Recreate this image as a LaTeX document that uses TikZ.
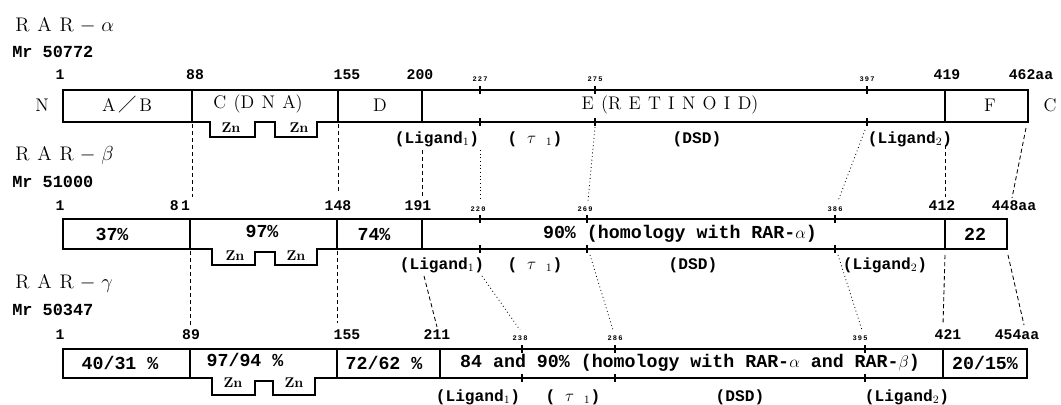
\documentclass[tikz,border=0pt]{standalone}
\usepackage{amsmath}
\usepackage{fontspec}
\setmonofont{Liberation Mono}
\newfontfamily\cjk{Noto Sans CJK SC}
\usepackage{tikz}
\usetikzlibrary{positioning}

\newcommand{\lsp}{\hspace{.4em}}

\begin{document}
\begin{tikzpicture}[
            x=0.025cm,
            y=-0.025cm,
            bar/.style={line width=0.9pt},
            sep/.style={line width=0.8pt},
            tick/.style={line width=0.8pt},
            dom/.style={font=\fontsize{13}{15}\selectfont, inner sep=0pt},
            rar/.style={font=\fontsize{14}{16}\selectfont, inner sep=0pt, anchor=west},
            mr/.style={font=\ttfamily\bfseries\fontsize{12}{14}\selectfont, inner sep=0pt, anchor=west},
            num/.style={font=\ttfamily\bfseries\fontsize{10.5}{12}\selectfont, inner sep=0pt},
            tiny/.style={font=\ttfamily\bfseries\fontsize{5}{6}\selectfont, inner sep=0pt},
            pct/.style={font=\ttfamily\bfseries\fontsize{13}{15}\selectfont, inner sep=0pt},
            zn/.style={font=\bfseries\fontsize{10}{12}\selectfont, inner sep=0pt},
            sub/.style={font=\ttfamily\bfseries\fontsize{11.5}{13}\selectfont, inner sep=0pt},
            lnk/.style={line width=0.6pt, dash pattern=on 3pt off 2pt},
            dlnk/.style={line width=0.6pt, dotted}
            ]

            \useasboundingbox (0,0) rectangle (1061,405);

            % RAR-alpha
            \node[rar] (nameA) at (15,25) {R\lsp A\lsp R\hspace{.3em}$-$\hspace{.3em}$\alpha$};
            \node[mr] (mrA) at (12,52) {Mr 50772};
            \node[dom] (nN) at (42,105) {N};
            \node[dom] (nC) at (1050,105) {C};

            \draw[bar] (63,90) -- (1028,90) -- (1028,122) -- (317,122) -- (317,137)
                -- (275,137) -- (275,122) -- (255,122) -- (255,137) -- (210,137)
                -- (210,122) -- (63,122) -- cycle;
            \draw[sep] (192,90) -- (192,122);
            \draw[sep] (338,90) -- (338,122);
            \draw[sep] (422,90) -- (422,122);
            \draw[sep] (945,90) -- (945,122);
            \draw[tick] (480,86) -- (480,94) (480,118) -- (480,126);
            \draw[tick] (595,86) -- (595,94) (595,118) -- (595,126);
            \draw[tick] (867,86) -- (867,94) (867,118) -- (867,126);

            \node[num] (a1) at (60,75) {1};
            \node[num] (a88) at (195,75) {88};
            \node[num] (a155) at (347,75) {155};
            \node[num] (a200) at (420,75) {200};
            \node[tiny] (a227) at (480,79) {2\,2\,7};
            \node[tiny] (a275) at (595,79) {2\,7\,5};
            \node[tiny] (a397) at (867,79) {3\,9\,7};
            \node[num] (a419) at (947,75) {419};
            \node[num] (a462) at (1031,75) {462aa};

            \node[dom] (dAB) at (127,105) {A\hspace{.15em}{\cjk ／}\hspace{.15em}B};
            \node[dom] (dC) at (258,104) {C\lsp(D\lsp N\lsp A)};
            \node[zn] (znA1) at (231,128) {Zn};
            \node[zn] (znA2) at (299,128) {Zn};
            \node[dom] (dD) at (380,105) {D};
            \node[dom] (dE) at (670,105) {E\lsp(R\lsp E\lsp T\lsp I\lsp N\lsp O\lsp I\lsp D)};
            \node[dom] (dF) at (990,105) {F};

            \node[sub] (lgA1) at (437,139) {(Ligand$_1$)};
            \node[sub] (tauA) at (535,139) {( $\tau$ $_1$)};
            \node[sub] (dsdA) at (697,139) {(DSD)};
            \node[sub] (lgA2) at (910,139) {(Ligand$_2$)};

            % RAR-beta
            \node[rar] (nameB) at (15,155) {R\lsp A\lsp R\hspace{.3em}$-$\hspace{.3em}$\beta$};
            \node[mr] (mrB) at (12,182) {Mr 51000};

            \draw[bar] (63,219) -- (1007,219) -- (1007,249) -- (317,249) -- (317,265)
                -- (275,265) -- (275,252) -- (255,252) -- (255,265) -- (212,265)
                -- (212,249) -- (63,249) -- cycle;
            \draw[sep] (190,219) -- (190,249);
            \draw[sep] (337,219) -- (337,249);
            \draw[sep] (422,219) -- (422,249);
            \draw[sep] (945,219) -- (945,249);
            \draw[tick] (480,215) -- (480,223) (480,245) -- (480,253);
            \draw[tick] (587,215) -- (587,223) (587,245) -- (587,253);
            \draw[tick] (835,215) -- (835,223) (835,245) -- (835,253);

            \node[num] (b1) at (60,206) {1};
            \node[num] (b81) at (180,206) {8\,1};
            \node[num] (b148) at (338,206) {148};
            \node[num] (b191) at (418,206) {191};
            \node[tiny] (b220) at (478,209) {2\,2\,0};
            \node[tiny] (b269) at (585,209) {2\,6\,9};
            \node[tiny] (b386) at (835,209) {3\,8\,6};
            \node[num] (b412) at (942,206) {412};
            \node[num] (b448) at (1014,206) {448aa};

            \node[pct] (p37) at (112,234) {37\%};
            \node[pct] (p97) at (262,231) {97\%};
            \node[zn] (znB1) at (235,256) {Zn};
            \node[zn] (znB2) at (296,256) {Zn};
            \node[pct] (p74) at (374,234) {74\%};
            \node[pct] (p90) at (680,234) {90\% (homology with RAR-$\alpha$)};
            \node[pct] (p22) at (975,234) {22};

            \node[sub] (lgB1) at (442,265) {(Ligand$_1$)};
            \node[sub] (tauB) at (535,265) {( $\tau$ $_1$)};
            \node[sub] (dsdB) at (693,265) {(DSD)};
            \node[sub] (lgB2) at (885,265) {(Ligand$_2$)};

            % RAR-gamma
            \node[rar] (nameG) at (15,283) {R\lsp A\lsp R\hspace{.3em}$-$\hspace{.3em}$\gamma$};
            \node[mr] (mrG) at (12,310) {Mr 50347};

            \draw[bar] (63,349) -- (1027,349) -- (1027,378) -- (315,378) -- (315,395)
                -- (273,395) -- (273,381) -- (255,381) -- (255,395) -- (212,395)
                -- (212,378) -- (63,378) -- cycle;
            \draw[sep] (190,349) -- (190,378);
            \draw[sep] (337,349) -- (337,378);
            \draw[sep] (440,349) -- (440,378);
            \draw[sep] (943,349) -- (943,378);
            \draw[tick] (522,345) -- (522,353) (522,374) -- (522,382);
            \draw[tick] (615,345) -- (615,353) (615,374) -- (615,382);
            \draw[tick] (865,345) -- (865,353) (865,374) -- (865,382);

            \node[num] (g1) at (60,335) {1};
            \node[num] (g89) at (191,335) {89};
            \node[num] (g155) at (347,335) {155};
            \node[num] (g211) at (437,335) {211};
            \node[tiny] (g238) at (520,338) {2\,3\,8};
            \node[tiny] (g286) at (615,338) {2\,8\,6};
            \node[tiny] (g395) at (860,338) {3\,9\,5};
            \node[num] (g421) at (948,335) {421};
            \node[num] (g454) at (1017,335) {454aa};

            \node[pct] (p40) at (120,363) {40/31 \%};
            \node[pct] (p97g) at (245,360) {97/94 \%};
            \node[zn] (znG1) at (233,383) {Zn};
            \node[zn] (znG2) at (294,383) {Zn};
            \node[pct] (p72) at (384,363) {72/62 \%};
            \node[pct] (p84) at (690,363) {84 and 90\% (homology with RAR-$\alpha$ and RAR-$\beta$)};
            \node[pct] (p20) at (985,363) {20/15\%};

            \node[sub] (lgG1) at (478,397) {(Ligand$_1$)};
            \node[sub] (tauG) at (573,397) {( $\tau$ $_1$)};
            \node[sub] (dsdG) at (740,397) {(DSD)};
            \node[sub] (lgG2) at (907,397) {(Ligand$_2$)};

            % 连线端点
            \coordinate (l1a) at (192,124);  \coordinate (l1b) at (192,197);
            \coordinate (l2a) at (338,124);  \coordinate (l2b) at (338,192);
            \coordinate (l3a) at (422,150);  \coordinate (l3b) at (422,196);
            \coordinate (l4a) at (480,150);  \coordinate (l4b) at (480,201);
            \coordinate (l5a) at (595,127);  \coordinate (l5b) at (588,201);
            \coordinate (l6a) at (865,130);  \coordinate (l6b) at (838,201);
            \coordinate (l7a) at (945,145);  \coordinate (l7b) at (945,197);
            \coordinate (l8a) at (1026,128); \coordinate (l8b) at (1012,198);

            \coordinate (m1a) at (190,251);  \coordinate (m1b) at (190,325);
            \coordinate (m2a) at (337,251);  \coordinate (m2b) at (337,323);
            \coordinate (m3a) at (424,276);  \coordinate (m3b) at (437,327);
            \coordinate (m4a) at (482,276);  \coordinate (m4b) at (520,330);
            \coordinate (m5a) at (590,255);  \coordinate (m5b) at (613,330);
            \coordinate (m6a) at (838,255);  \coordinate (m6b) at (862,330);
            \coordinate (m7a) at (945,255);  \coordinate (m7b) at (943,325);
            \coordinate (m8a) at (1008,255); \coordinate (m8b) at (1024,325);

            % 虚线
            \draw[lnk] (l1a) -- (l1b);
            \draw[lnk] (l2a) -- (l2b);
            \draw[lnk] (l3a) -- (l3b);
            \draw[dlnk] (l4a) -- (l4b);
            \draw[dlnk] (l5a) -- (l5b);
            \draw[dlnk] (l6a) -- (l6b);
            \draw[lnk] (l7a) -- (l7b);
            \draw[lnk] (l8a) -- (l8b);

            \draw[lnk] (m1a) -- (m1b);
            \draw[lnk] (m2a) -- (m2b);
            \draw[lnk] (m3a) -- (m3b);
            \draw[dlnk] (m4a) -- (m4b);
            \draw[dlnk] (m5a) -- (m5b);
            \draw[dlnk] (m6a) -- (m6b);
            \draw[lnk] (m7a) -- (m7b);
            \draw[lnk] (m8a) -- (m8b);
        \end{tikzpicture}
\end{document}
